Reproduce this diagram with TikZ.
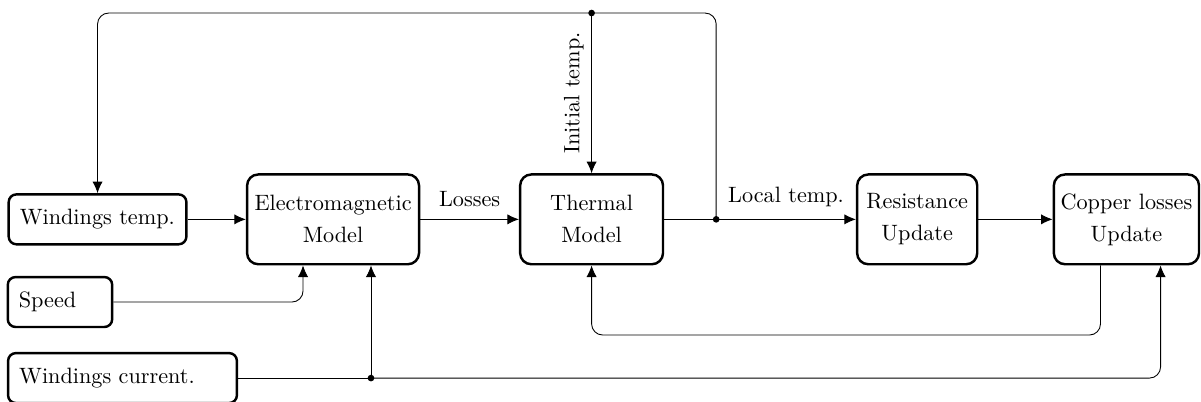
\documentclass[tikz,border=0pt]{standalone}
\usepackage{tikz}
\usetikzlibrary{arrows.meta,positioning,calc}

\begin{document}
\begin{tikzpicture}[
  inbox/.style={rectangle, draw, line width=1.1pt, rounded corners=3.5pt,
                minimum height=0.79cm, inner sep=5pt, align=left},
  model/.style={rectangle, draw, line width=1.1pt, rounded corners=5pt,
                minimum height=1.42cm, inner sep=3pt, align=center},
  arr/.style={-{Latex[length=5.2pt, width=4.6pt]}},
  lbl/.style={above=2pt},
  dot/.style={circle, fill, inner sep=0pt, minimum size=3pt}
]
\useasboundingbox (0,0) rectangle (19.0,-6.345);

\node[inbox, text width=70pt] (wtemp) at (1.543,-3.47) {Windings temp.};
\node[inbox, text width=37pt] (speed) at (0.949,-4.778) {Speed};
\node[inbox, text width=93pt] (wcurr) at (1.938,-5.981) {Windings current.};

\node[model, minimum width=2.72cm] (em)      at (5.269,-3.47) {Electromagnetic\\[2.4pt]Model};
\node[model, minimum width=2.26cm] (thermal) at (9.359,-3.47) {Thermal\\[2.4pt]Model};
\node[model, minimum width=1.90cm] (res)     at (14.51,-3.47) {Resistance\\[2.4pt]Update};
\node[model, minimum width=2.28cm] (copper)  at (17.82,-3.47) {Copper losses\\[2.4pt]Update};

\coordinate (split) at (9.359,-0.206);
\coordinate (jt)    at (11.33,-3.47);
\coordinate (jc)    at (5.869,-5.981);
\coordinate (loop)  at (9.359,-5.30);

% forward chain
\draw[arr] (wtemp) -- (em);
\draw[arr] (em) -- node[lbl]{Losses} (thermal);
\draw (thermal) -- (jt);
\draw[arr] (jt) -- node[lbl]{Local temp.} (res);
\draw[arr] (res) -- (copper);

% temperature feedback
\draw[rounded corners=5pt] (jt) |- (split);
\draw[arr, rounded corners=5pt] (split) -| (wtemp.north);
\draw[arr] (split) -- node[midway, rotate=90, anchor=south]{Initial temp.} (thermal.north);

% inputs
\draw[arr, rounded corners=5pt] (speed.east) -| ($(em.south)+(-0.475,0)$);
\draw (wcurr.east) -- (jc);
\draw[arr] (jc) -- (jc |- em.south);
\draw[arr, rounded corners=5pt] (jc) -| ($(copper.south)+(0.54,0)$);

% copper losses back to thermal
\draw[arr, rounded corners=5pt] ($(copper.south)+(-0.41,0)$) |- (loop) -- (thermal.south);

\node[dot] at (split) {};
\node[dot] at (jt) {};
\node[dot] at (jc) {};

\end{tikzpicture}
\end{document}
